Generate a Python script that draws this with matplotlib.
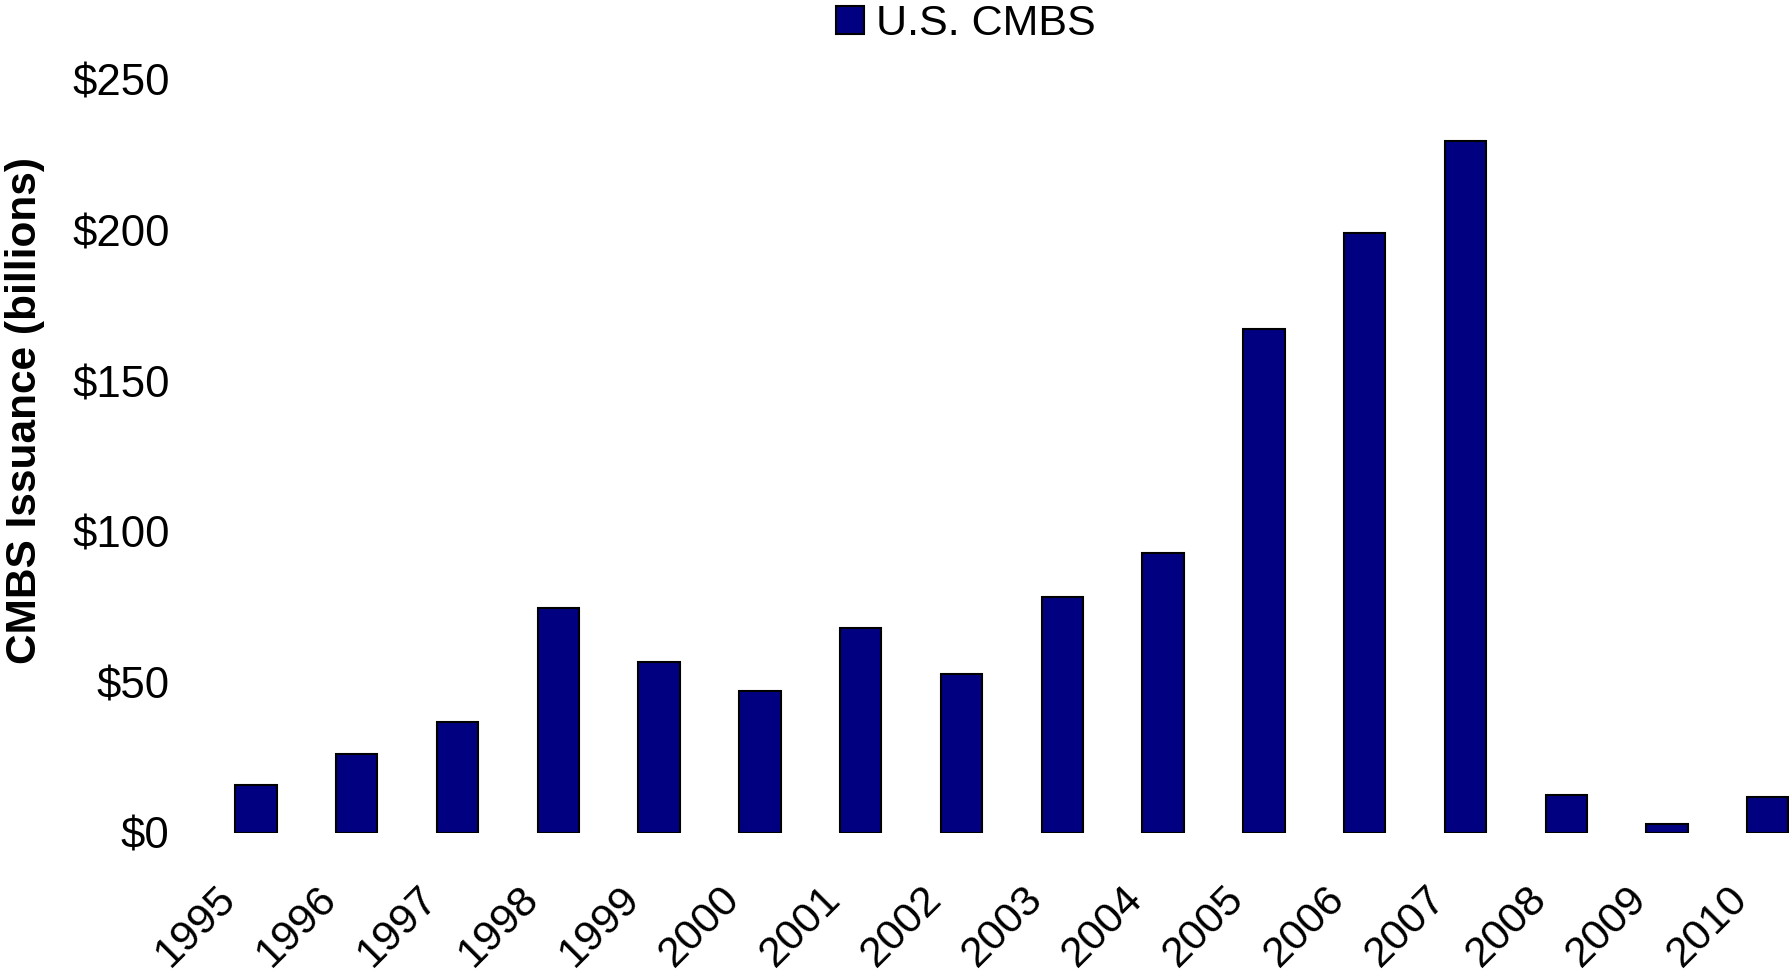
import matplotlib.pyplot as plt
from matplotlib.transforms import ScaledTranslation

plt.rcParams['font.family'] = ['Liberation Sans', 'DejaVu Sans']

years = ['1995', '1996', '1997', '1998', '1999', '2000', '2001', '2002',
         '2003', '2004', '2005', '2006', '2007', '2008', '2009', '2010']
issuance = [15.9, 26.3, 36.9, 74.8, 56.8, 47.1, 68.0, 52.8,
            78.2, 93.0, 167.4, 199.3, 229.9, 12.6, 3.0, 11.9]
y_ticks = [0, 50, 100, 150, 200, 250]
y_tick_labels = ['$0', '$50', '$100', '$150', '$200', '$250']

fig = plt.figure(figsize=(17.89, 9.73), dpi=100)
ax = fig.add_axes([0.1034, 0.1439, 0.8966, 0.7739])

x = list(range(len(years)))
ax.bar(x, issuance, width=0.41, color='#000080', edgecolor='black',
       linewidth=1.5, label='U.S. CMBS')

ax.set_xlim(-0.704, 15.21)
ax.set_ylim(0, 250)
ax.set_yticks(y_ticks)
ax.set_yticklabels(y_tick_labels, fontsize=31.5)
ax.set_xticks(x)
ax.set_xticklabels(years, fontsize=31, rotation=45, ha='right',
                   va='center', rotation_mode='anchor')
ax.tick_params(axis='both', length=0)
ax.tick_params(axis='y', pad=11)
ax.tick_params(axis='x', pad=43)

# shift the slanted year labels left so they end under the bar
shift = ScaledTranslation(-0.26, 0, fig.dpi_scale_trans)
for lbl in ax.get_xticklabels():
    lbl.set_transform(lbl.get_transform() + shift)

for side in ['top', 'right', 'bottom', 'left']:
    ax.spines[side].set_visible(False)

fig.text(0.014, 0.578, 'CMBS Issuance (billions)', rotation=90,
         fontsize=30.5, fontweight='bold', ha='center', va='center')

fig.legend(loc='center left', bbox_to_anchor=(836 / 1789, 1 - 24 / 973),
           frameon=False, fontsize=31, handlelength=0.65, handleheight=0.65,
           handletextpad=0.28, borderpad=0, borderaxespad=0)

fig.savefig('out.png', dpi=100)
